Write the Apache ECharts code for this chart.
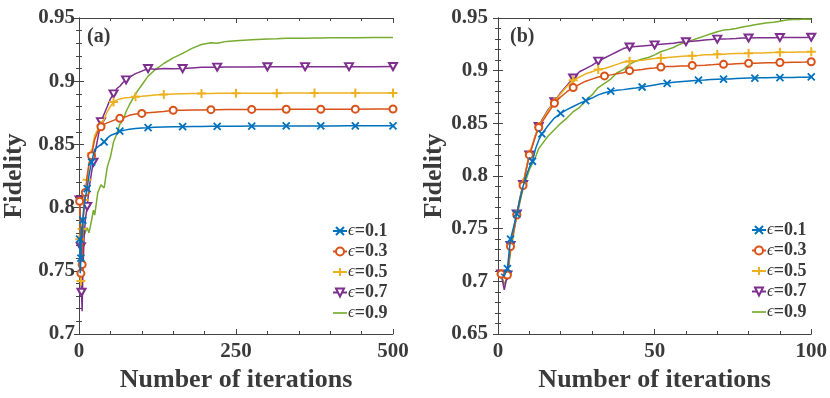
<!DOCTYPE html>
<html>
<head>
<meta charset="utf-8">
<script src="https://cdn.jsdelivr.net/npm/echarts@6/dist/echarts.min.js"></script>
<style>
  html, body { margin: 0; padding: 0; background: #fff; }
  #chart { width: 830px; height: 398px; }
</style>
</head>
<body>
<div id="chart"></div>
<script>
// series names
const names = ['ϵ=0.1', 'ϵ=0.3', 'ϵ=0.5', 'ϵ=0.7', 'ϵ=0.9'];

// panel (a): iterations 0..500
const leftIters = [1, 2, 3, 4, 5, 6, 8, 10, 13, 16, 20, 23, 25,
  30, 35, 40, 45, 50, 55, 60, 65, 70, 75, 80,
  90, 100, 110, 120, 135, 150, 165, 180, 195, 210,
  220, 235, 250, 275, 300, 315, 330,
  360, 375, 385, 400, 430, 440, 470, 500];

const leftFid01 = [0.775, 0.748, 0.760, 0.785, 0.779, 0.790, 0.800, 0.808, 0.815, 0.826, 0.836, 0.842, 0.846,
  0.848, 0.850, 0.852, 0.855, 0.857, 0.858, 0.859, 0.8605, 0.861, 0.8615, 0.862,
  0.8625, 0.863, 0.8632, 0.8635, 0.8638, 0.864, 0.864, 0.8642, 0.8642, 0.8643,
  0.8643, 0.8644, 0.8644, 0.8645, 0.8645, 0.8645, 0.8646,
  0.8646, 0.8646, 0.8646, 0.8646, 0.8647, 0.8647, 0.8647, 0.8647];
const leftFid03 = [0.805, 0.780, 0.748, 0.770, 0.755, 0.785, 0.800, 0.812, 0.825, 0.835, 0.841, 0.849, 0.854,
  0.860, 0.864, 0.866, 0.867, 0.868, 0.869, 0.870, 0.8706, 0.871, 0.872, 0.873,
  0.874, 0.8745, 0.875, 0.8755, 0.876, 0.877, 0.877, 0.8772, 0.8772, 0.8775,
  0.8775, 0.8776, 0.8776, 0.8777, 0.8777, 0.8777, 0.8778,
  0.8778, 0.8778, 0.8778, 0.8779, 0.8779, 0.8779, 0.878, 0.878];
const leftFid05 = [0.775, 0.745, 0.742, 0.753, 0.783, 0.790, 0.806, 0.812, 0.822, 0.835, 0.843, 0.852, 0.857,
  0.862, 0.865, 0.870, 0.876, 0.880, 0.8835, 0.885, 0.886, 0.8865, 0.887, 0.8872,
  0.8877, 0.888, 0.8885, 0.889, 0.8895, 0.8898, 0.890, 0.8902, 0.8903, 0.8903,
  0.8904, 0.8904, 0.8905, 0.8905, 0.8905, 0.8905, 0.8906,
  0.8906, 0.8906, 0.8906, 0.8906, 0.8907, 0.8907, 0.8907, 0.8907];
const leftFid07 = [0.806, 0.790, 0.769, 0.733, 0.718, 0.745, 0.775, 0.790, 0.801, 0.815, 0.828, 0.836, 0.842,
  0.855, 0.868, 0.874, 0.880, 0.886, 0.890, 0.894, 0.896, 0.899, 0.901, 0.903,
  0.906, 0.908, 0.910, 0.9095, 0.910, 0.9098, 0.910, 0.9105, 0.911, 0.911,
  0.9111, 0.9112, 0.9112, 0.9113, 0.9114, 0.9114, 0.9114,
  0.9115, 0.9115, 0.9115, 0.9115, 0.9115, 0.9115, 0.9115, 0.9116];
const leftFid09 = [0.800, 0.770, 0.745, 0.735, 0.760, 0.790, 0.778, 0.777, 0.784, 0.780, 0.790, 0.798, 0.794,
  0.812, 0.818, 0.8155, 0.832, 0.840, 0.852, 0.858, 0.866, 0.869, 0.876, 0.881,
  0.890, 0.897, 0.904, 0.9085, 0.914, 0.9185, 0.922, 0.926, 0.929, 0.9305,
  0.930, 0.9315, 0.932, 0.9328, 0.9334, 0.9336, 0.934,
  0.934, 0.9342, 0.9342, 0.9343, 0.9344, 0.9344, 0.9345, 0.9345];

// iterations that carry a marker
const leftMark01 = [1, 3, 6, 13, 20, 40, 65, 110, 165, 220, 275, 330, 385, 440, 500];
const leftMark03 = [1, 3, 5, 10, 20, 35, 65, 100, 150, 210, 275, 330, 385, 440, 500];
const leftMark05 = [1, 3, 5, 8, 13, 20, 35, 55, 90, 135, 195, 250, 315, 375, 440, 500];
const leftMark07 = [1, 3, 4, 13, 23, 35, 55, 75, 110, 165, 220, 300, 360, 430, 500];

// panel (b): iterations 0..100
const rightIters = [1, 2, 3, 4, 5, 6, 7, 8, 9, 10, 11, 12, 13, 14,
  16, 18, 20, 22, 24, 26, 28, 30, 32, 34, 36, 38, 40, 42, 44, 46, 48, 50,
  52, 54, 56, 58, 60, 62, 64, 66, 68, 70, 72, 74, 76, 78, 80,
  82, 84, 86, 88, 90, 92, 94, 96, 98, 100];

const rightFid01 = [0.707, 0.705, 0.712, 0.740, 0.752, 0.764, 0.778, 0.790, 0.800, 0.808, 0.814, 0.826, 0.834, 0.840,
  0.848, 0.855, 0.8595, 0.863, 0.866, 0.869, 0.8715, 0.874, 0.877, 0.879, 0.8805, 0.8815, 0.882, 0.8828, 0.8835, 0.8845, 0.8855, 0.8865,
  0.8875, 0.888, 0.889, 0.8895, 0.890, 0.8905, 0.891, 0.8912, 0.8915, 0.8918, 0.892, 0.8922, 0.8925, 0.8928, 0.893,
  0.893, 0.8932, 0.8933, 0.8934, 0.8935, 0.8935, 0.8935, 0.8937, 0.8938, 0.894];
const rightFid03 = [0.707, 0.703, 0.706, 0.733, 0.748, 0.763, 0.777, 0.791, 0.806, 0.820, 0.829, 0.838, 0.846, 0.851,
  0.860, 0.869, 0.875, 0.880, 0.884, 0.887, 0.890, 0.892, 0.894, 0.895, 0.896, 0.897, 0.898, 0.900, 0.9005, 0.901, 0.902, 0.9025,
  0.9035, 0.904, 0.904, 0.9045, 0.9045, 0.905, 0.905, 0.9052, 0.9055, 0.906, 0.906, 0.9062, 0.9065, 0.9068, 0.907,
  0.907, 0.9072, 0.9074, 0.9075, 0.9077, 0.9078, 0.908, 0.908, 0.9082, 0.9085];
const rightFid05 = [0.707, 0.704, 0.707, 0.734, 0.749, 0.764, 0.779, 0.793, 0.807, 0.821, 0.830, 0.839, 0.847, 0.852,
  0.862, 0.8705, 0.878, 0.885, 0.891, 0.894, 0.897, 0.899, 0.901, 0.902, 0.904, 0.906, 0.908, 0.909, 0.9095, 0.910, 0.9108, 0.9115,
  0.912, 0.9125, 0.913, 0.9135, 0.914, 0.9142, 0.9145, 0.915, 0.9152, 0.9155, 0.9157, 0.916, 0.9162, 0.9163, 0.9165,
  0.9167, 0.9168, 0.917, 0.9172, 0.9174, 0.9175, 0.9176, 0.9177, 0.9178, 0.918];
const rightFid07 = [0.707, 0.692, 0.706, 0.734, 0.749, 0.764, 0.779, 0.792, 0.806, 0.820, 0.829, 0.839, 0.847, 0.853,
  0.863, 0.8705, 0.879, 0.886, 0.893, 0.899, 0.902, 0.905, 0.909, 0.912, 0.915, 0.918, 0.921, 0.9225, 0.923, 0.9235, 0.924, 0.9245,
  0.925, 0.9255, 0.926, 0.927, 0.9275, 0.928, 0.9285, 0.929, 0.9295, 0.930, 0.930, 0.9302, 0.9305, 0.931, 0.931,
  0.9312, 0.9313, 0.9313, 0.9313, 0.9315, 0.9315, 0.9315, 0.9315, 0.9316, 0.9317];
const rightFid09 = [0.707, 0.697, 0.704, 0.728, 0.745, 0.762, 0.775, 0.788, 0.797, 0.806, 0.812, 0.818, 0.826, 0.830,
  0.838, 0.844, 0.850, 0.855, 0.861, 0.865, 0.8715, 0.877, 0.884, 0.888, 0.892, 0.898, 0.901, 0.906, 0.909, 0.911, 0.9125, 0.915,
  0.918, 0.920, 0.922, 0.925, 0.927, 0.929, 0.931, 0.933, 0.935, 0.937, 0.9385, 0.939, 0.940, 0.9415, 0.9425,
  0.9435, 0.9445, 0.9455, 0.946, 0.947, 0.948, 0.9485, 0.9485, 0.949, 0.9487];

const rightMark01 = [3, 4, 6, 11, 14, 20, 28, 36, 46, 54, 64, 72, 82, 90, 100];
const rightMark03 = [1, 3, 4, 6, 8, 10, 13, 18, 24, 34, 42, 52, 62, 72, 80, 90, 100];
const rightMark05 = [1, 3, 4, 6, 8, 10, 13, 18, 24, 32, 42, 52, 62, 70, 80, 90, 100];
const rightMark07 = [1, 3, 4, 6, 8, 10, 13, 18, 24, 32, 42, 50, 60, 70, 80, 90, 100];

const colors = ['#0072BD', '#D95319', '#EDB120', '#7E2F8E', '#77AC30'];
const symbols = ['path://M0,0L10,10M10,0L0,10', 'emptyCircle', 'path://M5,0L5,10M0,5L10,5', 'emptyTriangle', 'none'];
const symbolSizes = [7, 7, 9, [8, 7], 0];
const symbolWidths = [1.8, 1.5, 2, 1.6, 1.5];
const textColor = '#3a3a3a';
const serif = 'Liberation Serif, Times New Roman, serif';

const chart = echarts.init(document.getElementById('chart'));

function makeSeries(i, xs, ys, marks, axisIdx) {
  return {
    name: names[i],
    type: 'line',
    xAxisIndex: axisIdx,
    yAxisIndex: axisIdx,
    color: colors[i],
    lineStyle: { color: colors[i], width: 1.5 },
    itemStyle: { color: colors[i], borderColor: colors[i], borderWidth: symbolWidths[i] },
    symbol: symbols[i],
    symbolSize: symbolSizes[i],
    symbolRotate: i === 3 ? 180 : 0,
    showSymbol: i !== 4,
    showAllSymbol: true,
    z: 10 - i,
    data: xs.map((x, k) => (marks && marks.includes(x))
      ? { value: [x, ys[k]] }
      : { value: [x, ys[k]], symbol: 'none' })
  };
}

const axisLineStyle = { color: '#444', width: 1 };

function xAxes(grid, max, interval, name) {
  const common = {
    type: 'value', gridIndex: grid, min: 0, max: max, interval: interval,
    axisLine: { show: true, lineStyle: axisLineStyle },
    axisTick: { show: true, inside: true, length: 5, lineStyle: { color: '#444' } },
    minorTick: { show: true, splitNumber: 5, length: 3, lineStyle: { color: '#444' } },
    splitLine: { show: false }
  };
  return [
    Object.assign({}, common, {
      position: 'bottom',
      name: name, nameLocation: 'middle', nameGap: 30,
      nameTextStyle: { fontFamily: serif, fontWeight: 'bold', fontSize: 26, color: textColor },
      axisLabel: { fontFamily: serif, fontWeight: 'bold', fontSize: 21, color: textColor, margin: 7 }
    }),
    Object.assign({}, common, { position: 'top', axisLabel: { show: false } })
  ];
}

function yAxes(grid, min, margin, gap) {
  const common = {
    type: 'value', gridIndex: grid, min: min, max: 0.95, interval: 0.05,
    axisLine: { show: true, lineStyle: axisLineStyle },
    axisTick: { show: true, inside: true, length: 5, lineStyle: { color: '#444' } },
    minorTick: { show: true, splitNumber: 5, length: 3, lineStyle: { color: '#444' } },
    splitLine: { show: false }
  };
  return [
    Object.assign({}, common, {
      position: 'left',
      name: 'Fidelity', nameLocation: 'middle', nameGap: gap,
      nameTextStyle: { fontFamily: serif, fontWeight: 'bold', fontSize: 26, color: textColor },
      axisLabel: {
        fontFamily: serif, fontWeight: 'bold', fontSize: 21, color: textColor, margin: margin,
        formatter: v => String(+v.toFixed(2))
      }
    }),
    Object.assign({}, common, { position: 'right', axisLabel: { show: false } })
  ];
}

function legendAt(left, top) {
  return {
    orient: 'vertical', left: left, top: top,
    itemWidth: 14, itemHeight: 10, itemGap: 2.5,
    data: names.map((n, i) => i === 4
      ? { name: n, icon: 'path://M0,0L100,0L100,12L0,12Z', itemStyle: { borderWidth: 0 } }
      : n),
    formatter: n => '{e|ϵ}{v|' + n.slice(1) + '}',
    textStyle: {
      padding: [0, 0, 0, -4],
      rich: {
        e: { fontFamily: serif, fontStyle: 'italic', fontSize: 17, color: textColor, lineHeight: 17 },
        v: { fontFamily: serif, fontWeight: 'bold', fontSize: 18, color: textColor, lineHeight: 17 }
      }
    }
  };
}

const option = {
  animation: false,
  backgroundColor: '#fff',
  title: [
    { text: '(a)', left: 82, top: 22, textStyle: { fontFamily: serif, fontWeight: 'bold', fontSize: 20, color: textColor } },
    { text: '(b)', left: 505, top: 22, textStyle: { fontFamily: serif, fontWeight: 'bold', fontSize: 20, color: textColor } }
  ],
  grid: [
    { left: 77, top: 18, width: 316, height: 316 },
    { left: 498, top: 18, width: 316, height: 316 }
  ],
  xAxis: [...xAxes(0, 500, 250, 'Number of iterations'), ...xAxes(1, 100, 50, 'Number of iterations')],
  yAxis: [...yAxes(0, 0.7, 4, 52), ...yAxes(1, 0.65, 10, 49)],
  legend: [legendAt(327, 217), legendAt(746, 216)],
  series: [
    makeSeries(4, leftIters, leftFid09, null, 0),
    makeSeries(3, leftIters, leftFid07, leftMark07, 0),
    makeSeries(2, leftIters, leftFid05, leftMark05, 0),
    makeSeries(1, leftIters, leftFid03, leftMark03, 0),
    makeSeries(0, leftIters, leftFid01, leftMark01, 0),
    makeSeries(4, rightIters, rightFid09, null, 2),
    makeSeries(3, rightIters, rightFid07, rightMark07, 2),
    makeSeries(2, rightIters, rightFid05, rightMark05, 2),
    makeSeries(1, rightIters, rightFid03, rightMark03, 2),
    makeSeries(0, rightIters, rightFid01, rightMark01, 2)
  ]
};

chart.setOption(option);
</script>
</body>
</html>
